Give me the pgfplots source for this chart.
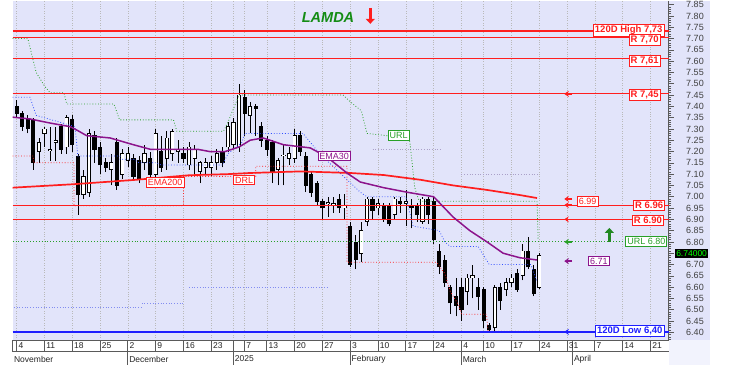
\documentclass[border=0pt]{standalone}
\usepackage{fontspec}
\setmainfont{Liberation Sans}
\usepackage{pgfplots}
\usepackage{pgfplotstable}
\pgfplotsset{compat=1.18}
\usetikzlibrary{arrows.meta}

\definecolor{bgl}{RGB}{226,228,250}
\definecolor{lred}{RGB}{255,30,30}
\definecolor{lblue}{RGB}{30,30,255}
\definecolor{lgreen}{RGB}{40,160,40}
\definecolor{lpurple}{RGB}{140,20,140}
\definecolor{lamdagreen}{RGB}{20,140,20}
\definecolor{bandgray}{RGB}{90,90,90}
\definecolor{faintblue}{RGB}{130,140,240}
\definecolor{faintgray}{RGB}{170,160,200}
\definecolor{lineblue}{RGB}{50,80,255}

\pgfplotstableread{
i O H L C
0 7.40 7.43 7.35 7.37
1 7.37 7.38 7.29 7.31
2 7.34 7.36 7.28 7.30
3 7.34 7.35 7.12 7.15
4 7.20 7.26 7.15 7.24
5 7.28 7.31 7.22 7.30
6 7.205 7.31 7.16 7.21
7 7.24 7.31 7.16 7.25
8 7.31 7.32 7.19 7.21
9 7.22 7.36 7.19 7.35
10 7.34 7.36 7.20 7.23
11 7.18 7.19 6.92 7.01
12 7.01 7.12 6.99 7.09
13 7.02 7.30 7.00 7.28
14 7.27 7.29 7.15 7.21
15 7.22 7.24 7.10 7.14
16 7.15 7.17 7.11 7.13
17 7.12 7.19 7.05 7.15
18 7.24 7.26 7.03 7.05
19 7.10 7.21 7.08 7.19
20 7.16 7.22 7.13 7.19
21 7.17 7.19 7.07 7.09
22 7.16 7.18 7.06 7.08
23 7.15 7.23 7.12 7.19
24 7.17 7.20 7.08 7.10
25 7.10 7.30 7.08 7.28
26 7.20 7.27 7.11 7.13
27 7.17 7.29 7.12 7.26
28 7.19 7.30 7.16 7.29
29 7.20 7.25 7.15 7.21
30 7.19 7.22 7.15 7.17
31 7.14 7.24 7.12 7.22
32 7.17 7.23 7.10 7.21
33 7.11 7.16 7.06 7.15
34 7.13 7.17 7.10 7.15
35 7.13 7.18 7.09 7.15
36 7.15 7.21 7.12 7.19
37 7.20 7.22 7.13 7.15
38 7.22 7.33 7.20 7.31
39 7.23 7.35 7.21 7.33
40 7.22 7.50 7.20 7.45
41 7.44 7.47 7.27 7.37
42 7.36 7.42 7.28 7.40
43 7.40 7.41 7.27 7.39
44 7.31 7.33 7.22 7.25
45 7.25 7.27 7.18 7.21
46 7.24 7.25 7.06 7.11
47 7.12 7.17 7.05 7.16
48 7.18 7.23 7.05 7.185
49 7.17 7.22 7.14 7.19
50 7.17 7.30 7.15 7.27
51 7.27 7.29 7.18 7.20
52 7.18 7.20 7.02 7.05
53 7.10 7.11 7.00 7.02
54 7.06 7.07 6.96 6.98
55 6.98 6.99 6.90 6.95
56 6.97 7.00 6.91 6.975
57 6.96 7.00 6.93 6.97
58 6.99 7.01 6.93 6.95
59 6.95 7.01 6.90 6.96
60 6.87 6.89 6.69 6.70
61 6.80 6.83 6.68 6.72
62 6.75 6.89 6.71 6.85
63 6.89 7.00 6.87 6.99
64 6.99 7.00 6.90 6.94
65 6.95 6.99 6.92 6.97
66 6.96 6.97 6.89 6.90
67 6.96 6.97 6.87 6.88
68 6.92 7.00 6.90 6.99
69 6.98 7.00 6.93 6.97
70 6.97 7.03 6.87 6.98
71 6.96 6.99 6.86 6.95
72 6.96 6.97 6.89 6.92
73 6.89 7.00 6.88 6.99
74 6.99 7.00 6.88 6.92
75 6.98 7.00 6.79 6.81
76 6.76 6.79 6.66 6.69
77 6.72 6.74 6.60 6.62
78 6.60 6.61 6.48 6.53
79 6.56 6.64 6.47 6.52
80 6.60 6.64 6.45 6.50
81 6.58 6.66 6.52 6.64
82 6.64 6.70 6.55 6.65
83 6.60 6.64 6.50 6.56
84 6.59 6.60 6.42 6.45
85 6.43 6.44 6.40 6.41
86 6.42 6.61 6.40 6.60
87 6.60 6.62 6.50 6.54
88 6.59 6.64 6.56 6.62
89 6.62 6.66 6.60 6.64
90 6.66 6.68 6.58 6.59
91 6.65 6.79 6.63 6.76
92 6.76 6.82 6.68 6.69
93 6.68 6.70 6.56 6.57
94 6.60 6.75 6.59 6.74
}\candles

\tikzset{
  bl/.style={draw=#1, fill=white, text=#1, line width=0.7pt, inner sep=1.5pt, font=\fontsize{9.5}{10}\selectfont\bfseries},
  nl/.style={draw=#1, fill=white, text=#1, line width=0.7pt, inner sep=1.5pt, font=\fontsize{9}{10}\selectfont},
  sarrow/.style={draw=#1, line width=1.3pt, -{Stealth[length=4.5pt,width=6pt]}},
  daylbl/.style={anchor=west, inner sep=0pt, xshift=1.6pt, yshift=-6pt, font=\fontsize{8.5}{10}\selectfont, text=black!85},
  monlbl/.style={anchor=west, inner sep=0pt, xshift=1.2pt, yshift=-19pt, font=\fontsize{8.5}{10}\selectfont, text=black!85},
}

\begin{document}
\begin{tikzpicture}
\path[use as bounding box] (-12.7pt,-41pt) rectangle (731.3pt,340pt);
\fill[white] (-12.7pt,-41pt) rectangle (731.3pt,340pt);
\fill[bgl] (656pt,0pt) rectangle (697pt,339pt);
\fill[bgl!45] (656pt,-25pt) rectangle (697pt,0pt);
\begin{axis}[
  at={(0,0)}, anchor=south west,
  scale only axis, width=656pt, height=339pt,
  xmin=-0.72, xmax=117.28, ymin=6.366, ymax=7.866,
  clip=false,
  axis background/.style={fill=bgl},
  axis x line*=bottom, axis y line*=right,
  x axis line style={draw=bandgray, line width=0.8pt},
  y axis line style={draw=bandgray, line width=0.8pt},
  xtick={0,5,10,15,20,25,30,35,39,41,45,50,55,60,65,70,75,80,84,89,94,99,104,109,114},
  xticklabels={},
  xtick style={draw=none},
  xmajorgrids,
  grid style={dotted, gray!55, line width=0.6pt},
  ytick distance=0.05,
  minor y tick num=4,
  tick align=outside,
  major tick length=5pt,
  minor tick length=2.5pt,
  ytick style={draw=bandgray, line width=0.6pt},
  yticklabel style={/pgf/number format/.cd, fixed, fixed zerofill, precision=2, assume math mode=true,
     /tikz/.cd, font=\fontsize{9}{10}\selectfont, text=black!75, xshift=9pt},
]

% faint dotted levels
\addplot[faintblue, dotted, line width=0.7pt] coordinates {(-0.5,6.51) (22.5,6.51)};
\addplot[faintblue, dotted, line width=0.7pt] coordinates {(22.5,6.53) (30,6.53)};
\addplot[faintblue, dotted, line width=0.7pt] coordinates {(31,6.60) (56,6.60)};
\addplot[faintgray, dotted, line width=0.7pt] coordinates {(64,7.21) (76.5,7.21)};
\addplot[faintgray, dotted, line width=0.7pt] coordinates {(80,7.10) (94,7.10)};

% candles: wicks
\addplot[draw=none, mark=none, forget plot,
  error bars/.cd, y dir=plus, y explicit, error mark=none,
  error bar style={draw=black, line width=0.7pt}]
  table[x=i, y=L, y error plus expr=\thisrow{H}-\thisrow{L}] {\candles};
% bodies (black outline)
\addplot[draw=none, mark=none, forget plot,
  error bars/.cd, y dir=plus, y explicit, error mark=none,
  error bar style={draw=black, line width=4.2pt}]
  table[x=i, y expr={min(\thisrow{O},\thisrow{C})-0.0018}, y error plus expr={abs(\thisrow{C}-\thisrow{O})+0.0036}] {\candles};
% white interiors for rising candles
\addplot[draw=none, mark=none, forget plot,
  error bars/.cd, y dir=plus, y explicit, error mark=none,
  error bar style={draw=white, line width=2.6pt}]
  table[x=i, y expr={\thisrow{O}+0.0018}, y error plus expr={max(\thisrow{C}-\thisrow{O}-0.0036,0)}] {\candles};

% lower channel (blue dotted)
\addplot[lineblue, dotted, line width=0.8pt] coordinates {
(-0.72,7.44)(2.4,7.44)(3.5,7.36)(10.5,7.31)(11,7.18)(18.6,7.18)(18.6,7.166)(21,7.166)(22,7.15)(25,7.15)(26,7.14)(37,7.14)(38,7.19)(40.5,7.24)(41,7.28)(51.5,7.28)(54.5,7.19)(61.8,7.02)(63,7.0)(70,7.0)(71.3,6.87)(76,6.85)(77,6.80)(78,6.78)(83,6.78)(85,6.70)(92.5,6.70)(93.5,6.63)};

% DRL (red dotted)
\addplot[lred, dotted, line width=0.8pt] coordinates {
(-0.72,7.18)(3,7.18)(3,7.15)(10.3,7.15)(10.3,6.96)(30,6.96)(30,7.09)(43,7.09)(43,7.135)(59.4,7.135)(59.4,6.71)(75.5,6.71)(77,6.66)(78,6.58)(79.5,6.52)(80,6.48)(84.5,6.48)(84.8,6.405)(93.5,6.405)};

% URL (green dotted)
\addplot[lgreen, dotted, line width=0.8pt] coordinates {
(-0.72,7.70)(2,7.70)(3.5,7.55)(5,7.49)(6,7.46)(8.5,7.46)(9,7.41)(17.5,7.41)(18.5,7.34)(28.2,7.34)(28.8,7.29)(37.2,7.29)(38,7.33)(40,7.45)(58.7,7.45)(60,7.42)(62,7.38)(63,7.28)(66.6,7.27)(70.6,7.27)(71.6,7.04)(72.4,6.98)(93.6,6.98)(93.8,6.81)};

% horizontal levels
\addplot[lred, line width=1.8pt] coordinates {(-0.72,7.735) (117.28,7.735)};
\addplot[lred, line width=0.9pt] coordinates {(-0.72,7.705) (117.28,7.705)};
\addplot[lred, line width=0.9pt] coordinates {(-0.72,7.612) (117.28,7.612)};
\addplot[lred, line width=0.9pt] coordinates {(-0.72,7.455) (117.28,7.455)};
\addplot[lred, line width=0.9pt] coordinates {(-0.72,6.963) (117.28,6.963)};
\addplot[lred, line width=0.9pt] coordinates {(-0.72,6.900) (117.28,6.900)};
\addplot[lgreen, dotted, line width=0.9pt] coordinates {(-0.72,6.80) (117.28,6.80)};
\addplot[lblue, line width=1.8pt] coordinates {(-0.72,6.402) (117.28,6.402)};

% EMA200
\addplot[lred, line width=1.7pt] coordinates {
(-0.72,7.04)(10,7.055)(21,7.074)(31,7.095)(38,7.10)(42,7.105)(51,7.112)(60,7.105)(66,7.096)(72.6,7.075)(78.5,7.05)(84.6,7.03)(90.6,7.007)(93.6,6.994)};
% EMA30
\addplot[lpurple, line width=1.5pt] coordinates {
(-0.72,7.352)(2.4,7.344)(6,7.326)(9.6,7.31)(10.8,7.295)(12.6,7.27)(16.8,7.26)(21,7.23)(24,7.21)(32.5,7.21)(34.7,7.20)(37.5,7.20)(40,7.22)(42,7.25)(44.3,7.26)(48,7.23)(52.8,7.216)(55.8,7.176)(59.4,7.105)(61.8,7.065)(66,7.04)(70.2,7.02)(75,7.0)(78.5,6.91)(81.5,6.85)(84.6,6.80)(87.5,6.75)(90.5,6.73)(93.6,6.72)};

% in-chart labels
\node[nl=lred] at (axis cs:26.7,7.063) {EMA200};
\node[nl=lred] at (axis cs:40.9,7.074) {DRL};
\node[nl=lpurple] at (axis cs:57.1,7.18) {EMA30};
\node[nl=lgreen] at (axis cs:68.7,7.271) {URL};

% right labels
\node[bl=lred, anchor=east] at (axis cs:116.5,7.737) {120D High 7,73};
\node[bl=lred, anchor=east] at (axis cs:115.8,7.693) {R 7,70};
\node[bl=lred, anchor=east] at (axis cs:115.8,7.603) {R 7,61};
\node[bl=lred, anchor=east] at (axis cs:115.8,7.450) {R 7,45};
\node[bl=lred, anchor=east] at (axis cs:116.6,6.961) {R 6.96};
\node[bl=lred, anchor=east] at (axis cs:116.4,6.897) {R 6.90};
\node[nl=lgreen, anchor=east] at (axis cs:117.0,6.802) {URL 6.80};
\node[bl=lblue, anchor=east] at (axis cs:116.5,6.408) {120D Low 6,40};
\node[nl=lred] at (axis cs:102.7,6.979) {6.99};
\node[nl=lpurple] at (axis cs:104.7,6.715) {6.71};
\node[fill=black, text={rgb,255:red,0;green,255;blue,0}, inner sep=1.5pt, font=\fontsize{8.5}{10}\selectfont] at (axis cs:121.4,6.749) {6.74000};

% small arrows
\draw[sarrow=lred] (axis cs:99.9,7.455) -- (axis cs:98.5,7.455);
\draw[sarrow=lred] (axis cs:99.9,6.99) -- (axis cs:98.5,6.99);
\draw[sarrow=lred] (axis cs:99.9,6.963) -- (axis cs:98.5,6.963);
\draw[sarrow=lred] (axis cs:99.9,6.90) -- (axis cs:98.5,6.90);
\draw[sarrow=lgreen] (axis cs:99.9,6.80) -- (axis cs:98.5,6.80);
\draw[sarrow=lpurple] (axis cs:99.9,6.715) -- (axis cs:98.5,6.715);
\draw[sarrow=lblue] (axis cs:99.9,6.402) -- (axis cs:98.5,6.402);
\draw[lgreen!85!black, line width=2.6pt, -{Triangle[length=5pt,width=9pt]}] (axis cs:106.6,6.80) -- (axis cs:106.6,6.862);

% title
\node[font=\fontsize{14.5}{15}\selectfont\bfseries\itshape, text=lamdagreen] at (axis cs:56,7.791) {LAMDA};
\draw[lred, line width=2.6pt, -{Triangle[length=5pt,width=9pt]}] (axis cs:63.6,7.836) -- (axis cs:63.6,7.765);

% date band
\draw[bandgray, line width=0.8pt] ([yshift=-11.7pt]axis cs:-0.72,6.366) -- ([yshift=-11.7pt]axis cs:117.28,6.366);
\draw[bandgray, line width=0.8pt] (axis cs:-0.72,6.366) -- ++(0pt,-11.7pt);
\pgfplotsinvokeforeach{0,5,10,15,25,30,35,41,45,50,55,65,70,75,84,89,94,99,104,109,114}{
  \draw[bandgray, line width=0.8pt] (axis cs:#1,6.366) -- ++(0pt,-11.7pt);
}
\pgfplotsinvokeforeach{20,39,60,80,100}{
  \draw[bandgray, line width=0.8pt] (axis cs:#1,6.366) -- ++(0pt,-25pt);
}
\node[daylbl] at (axis cs:0,6.366) {4};
\node[daylbl] at (axis cs:5,6.366) {11};
\node[daylbl] at (axis cs:10,6.366) {18};
\node[daylbl] at (axis cs:15,6.366) {25};
\node[daylbl] at (axis cs:20,6.366) {2};
\node[daylbl] at (axis cs:25,6.366) {9};
\node[daylbl] at (axis cs:30,6.366) {16};
\node[daylbl] at (axis cs:35,6.366) {23};
\node[daylbl] at (axis cs:41,6.366) {7};
\node[daylbl] at (axis cs:45,6.366) {13};
\node[daylbl] at (axis cs:50,6.366) {20};
\node[daylbl] at (axis cs:55,6.366) {27};
\node[daylbl] at (axis cs:60,6.366) {3};
\node[daylbl] at (axis cs:65,6.366) {10};
\node[daylbl] at (axis cs:70,6.366) {17};
\node[daylbl] at (axis cs:75,6.366) {24};
\node[daylbl] at (axis cs:80,6.366) {4};
\node[daylbl] at (axis cs:84,6.366) {10};
\node[daylbl] at (axis cs:89,6.366) {17};
\node[daylbl] at (axis cs:94,6.366) {24};
\node[daylbl] at (axis cs:99,6.366) {31};
\node[daylbl] at (axis cs:104,6.366) {7};
\node[daylbl] at (axis cs:109,6.366) {14};
\node[daylbl] at (axis cs:114,6.366) {21};
\node[monlbl] at (axis cs:-0.72,6.366) {November};
\node[monlbl] at (axis cs:20,6.366) {December};
\node[monlbl] at (axis cs:39,6.366) {2025};
\node[monlbl] at (axis cs:60,6.366) {February};
\node[monlbl] at (axis cs:80,6.366) {March};
\node[monlbl] at (axis cs:100,6.366) {April};
\end{axis}
\end{tikzpicture}
\end{document}
